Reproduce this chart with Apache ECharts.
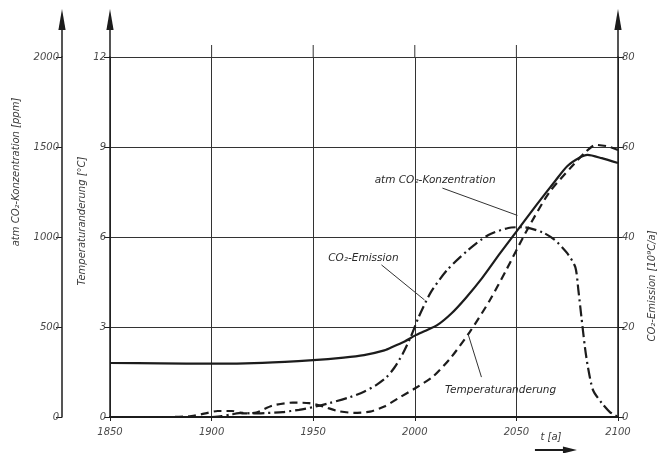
<!DOCTYPE html>
<html><head><meta charset="utf-8">
<script src="https://cdn.jsdelivr.net/npm/echarts@6/dist/echarts.min.js"></script>
<style>html,body{margin:0;padding:0;background:#fff}#c{width:661px;height:453px}</style>
</head><body><div id="c"></div>
<script>
// ---- data ----
const concYears = [1850,1875,1900,1925,1950,1965,1975,1985,1990,1995,2000,2005,2011,2018,2025,2033,2042,2050,2060,2069,2075,2081,2085,2092,2100];
const concPpm   = [300,298,296,301,316,330,344,370,395,420,452,478,510,575,660,770,910,1030,1180,1310,1393,1440,1456,1438,1411];

const tempYears = [1850,1880,1890,1897,1903,1910,1916,1922,1930,1940,1948,1955,1962,1970,1978,1985,1993,2000,2009,2018,2027,2037,2045,2055,2066,2077,2084,2089,2095,2100];
const tempC     = [0,0,0.03,0.12,0.2,0.2,0.12,0.15,0.38,0.48,0.46,0.35,0.2,0.14,0.18,0.35,0.67,0.95,1.35,2.0,2.83,3.9,4.9,6.2,7.47,8.33,8.83,9.07,9.02,8.9];

const emisYears = [1900,1905,1910,1915,1920,1927,1935,1943,1950,1958,1968,1975,1981,1986,1990,1994,1998,2002,2008,2016,2026,2036,2046,2053,2063,2069,2075,2079,2080.5,2082,2083.7,2085.2,2087.7,2092,2096,2100];
const emisVal   = [0,0.2,0.6,0.9,0.8,0.9,1.1,1.6,2.2,3.1,4.4,5.6,7.1,8.8,11,14,17.8,22.3,27.8,32.7,37,40.4,42,42.2,41,39.3,36.4,33.3,28.2,22.2,15.6,11.1,6,3.1,1.1,0];

const xTickYears = [1850,1900,1950,2000,2050,2100];
const ppmTicks = [0,500,1000,1500,2000];
const tempTicks = [0,3,6,9,12];
const emisTicks = [0,20,40,60,80];

const seriesNames = ['atm CO\u2082-Konzentration','Temperaturanderung','CO\u2082-Emission'];

// ---- chart ----
const chart = echarts.init(document.getElementById('c'), null, {renderer:'canvas'});
const GRID = {left:110, right:43, top:57, bottom:36};
const ink = '#1c1c1c';
const FONT = '"DejaVu Sans", sans-serif';
const plain = v => String(v);
const lab = {fontFamily:FONT, fontStyle:'italic', fontSize:10, color:'#4a4a4a', formatter:plain};
const pairs = (xs, ys) => xs.map((x,i)=>[x, ys[i]]);

const baseSeries = {type:'line', symbol:'none', showSymbol:false, smooth:0.25, z:5};

chart.setOption({
  animation:false,
  backgroundColor:'#fff',
  grid: GRID,
  xAxis: {
    type:'value', min:xTickYears[0], max:xTickYears[xTickYears.length-1], interval:50,
    axisLine:{lineStyle:{color:ink, width:2}},
    axisTick:{show:true, length:4, lineStyle:{color:ink}},
    axisLabel:{...lab, margin:10},
    splitLine:{show:true, lineStyle:{color:'#333', width:1}}
  },
  yAxis: [
    {type:'value', position:'left', offset:48, min:ppmTicks[0], max:ppmTicks[ppmTicks.length-1], interval:500,
     axisLine:{show:true, lineStyle:{color:ink, width:1.5}},
     axisTick:{show:true, length:6, lineStyle:{color:ink}},
     axisLabel:{...lab, margin:3}, splitLine:{show:false}},
    {type:'value', position:'left', offset:0, min:tempTicks[0], max:tempTicks[tempTicks.length-1], interval:3,
     axisLine:{show:true, lineStyle:{color:ink, width:1.5}},
     axisTick:{show:true, length:6, lineStyle:{color:ink}},
     axisLabel:{...lab, margin:4},
     splitLine:{show:true, lineStyle:{color:'#333', width:1}}},
    {type:'value', position:'right', min:emisTicks[0], max:emisTicks[emisTicks.length-1], interval:20,
     axisLine:{show:true, lineStyle:{color:ink, width:1.5}},
     axisTick:{show:true, length:6, lineStyle:{color:ink}},
     axisLabel:{...lab, margin:4}, splitLine:{show:false}}
  ],
  series: [
    {...baseSeries, name:seriesNames[0], yAxisIndex:0, data:pairs(concYears, concPpm),
     lineStyle:{color:ink, width:2.2, type:'solid'}},
    {...baseSeries, name:seriesNames[1], yAxisIndex:1, data:pairs(tempYears, tempC),
     lineStyle:{color:ink, width:2.2, type:[8,5]}},
    {...baseSeries, name:seriesNames[2], yAxisIndex:2, data:pairs(emisYears, emisVal),
     lineStyle:{color:ink, width:2.2, type:[11,4,2,4]}}
  ]
});

// ---- decorations (axis arrows, grid extensions, labels) ----
const toPx = (yr, t) => chart.convertToPixel({xAxisIndex:0, yAxisIndex:1}, [yr, t]);
const g = [];
const topT = tempTicks[tempTicks.length-1];
[1900,1950,2000,2050].forEach(yr => {
  const p = toPx(yr, topT);
  g.push({type:'line', shape:{x1:p[0], y1:p[1], x2:p[0], y2:p[1]-12}, style:{stroke:'#333', lineWidth:1}});
});
const pLeft = toPx(1850, topT), pRight = toPx(2100, topT);
[pLeft[0]-48, pLeft[0], pRight[0]].forEach(x => {
  const yTop = pLeft[1];
  g.push({type:'line', shape:{x1:x, y1:yTop, x2:x, y2:28}, style:{stroke:ink, lineWidth:1.5}});
  g.push({type:'polygon', shape:{points:[[x,9],[x-3.6,30],[x+3.6,30]]}, style:{fill:ink}});
});
function vtext(x, y, text, size){
  g.push({type:'text', x:x, y:y, rotation:Math.PI/2,
    style:{text:text, fill:'#3a3a3a', font:'italic '+size+'px '+FONT,
      align:'center', verticalAlign:'middle', textAlign:'center', textVerticalAlign:'middle'}});
}
vtext(16, 172, 'atm CO\u2082-Konzentration [ppm]', 10);
vtext(82, 221, 'Temperaturanderung [\u00B0C]', 10);
vtext(652, 286, 'CO\u2082-Emission [10\u2079C/a]', 10);
const pT = toPx(2067, 0);
g.push({type:'text', x:pT[0], y:pT[1]+20, style:{text:'t [a]', fill:'#3a3a3a', font:'italic 10px '+FONT, align:'center', verticalAlign:'middle', textAlign:'center', textVerticalAlign:'middle'}});
g.push({type:'line', shape:{x1:pT[0]-16, y1:pT[1]+33, x2:pT[0]+16, y2:pT[1]+33}, style:{stroke:ink, lineWidth:2}});
g.push({type:'polygon', shape:{points:[[pT[0]+26,pT[1]+33],[pT[0]+12,pT[1]+29.5],[pT[0]+12,pT[1]+36.5]]}, style:{fill:ink}});
const notes = [
  {text:seriesNames[0], at:[2010, 7.9], from:[2013.6, 7.63], to:[2050.5, 6.72]},
  {text:seriesNames[2], at:[1974.7, 5.3], from:[1983.6, 5.07], to:[2004.8, 3.9]},
  {text:seriesNames[1], at:[2042.2, 0.9], from:[2032.8, 1.33], to:[2026.2, 2.77]}
];
notes.forEach(n => {
  const a = toPx(n.at[0], n.at[1]), f = toPx(n.from[0], n.from[1]), t = toPx(n.to[0], n.to[1]);
  g.push({type:'text', x:a[0], y:a[1], z:11, style:{text:n.text, fill:'#2a2a2a', font:'italic 10.5px '+FONT, align:'center', verticalAlign:'middle', textAlign:'center', textVerticalAlign:'middle'}});
  g.push({type:'line', z:11, shape:{x1:f[0], y1:f[1], x2:t[0], y2:t[1]}, style:{stroke:'#333', lineWidth:1}});
});
chart.setOption({graphic:g});
</script></body></html>
